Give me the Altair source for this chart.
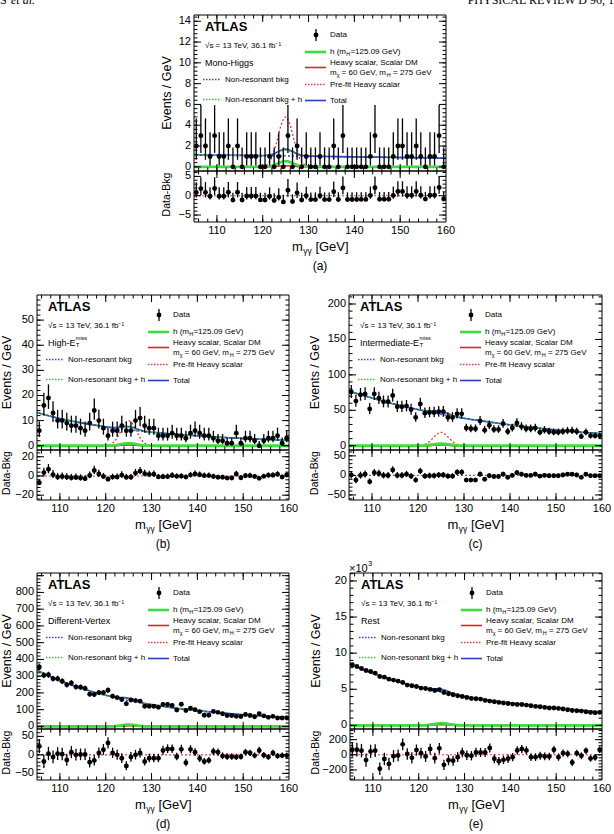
import math
import altair as alt
import pandas as pd

FONT = "Liberation Sans"
SERIF = "Liberation Serif"

# ------------------------------------------------------------------ data
# 1 GeV bins between 105 and 160 GeV
BIN_CENTRES = [105.5 + i for i in range(55)]

# Mono-Higgs category: events per GeV and data minus background
MONO_DATA = [2, 3, 2, 1, 3, 1, 1, 2, 0, 2,
             0, 1, 1, 1, 0, 0, 1, 0, 1, 0,
             3, 0, 2, 0, 1, 0, 0, 1, 0, 0,
             2, 0, 3, 0, 0, 0, 0, 0, 1, 3,
             0, 0, 0, 1, 2, 2, 1, 1, 2, 1,
             0, 1, 1, 3, 0]
MONO_RESID = [0.85, 1.85, 0.86, -0.13, 1.87, -0.12, -0.11, 0.9, -1.1, 0.9,
              -1.1, -0.08, -0.07, -0.07, -1.08, -1.1, -0.15, -1.25, -0.4, -1.6,
              1.4, -1.5, 0.75, -1.1, -0.02, -1.0, -1.0, 0.0, -1.0, -1.0,
              1.02, -0.98, 2.03, -0.97, -0.96, -0.96, -0.95, -0.95, 0.06, 2.06,
              -0.93, -0.93, -0.92, 0.09, 1.09, 1.1, 0.1, 0.11, 1.12, 0.12,
              -0.87, 0.13, 0.14, 2.14, -0.85]

# High-ETmiss category
HIGH_DATA = [6, 16, 19, 13, 10, 10, 9, 8, 8, 7,
             6, 9, 14, 10, 7, 4, 6, 6, 8, 6,
             6, 10, 11, 8, 7, 7, 4, 4, 4, 5,
             4, 4, 3, 5, 6, 5, 4, 4, 3, 2,
             2, 1, 1, 5, 1, 3, 3, 2, 0, 2,
             3, 3, 4, 1, 3]
HIGH_RESID = [-7, 3.5, 7, 1.4, -1.1, -0.6, -1.2, -1.8, -1.5, -2.1,
              -2.8, 0.5, 5.8, 2.1, -0.6, -3.4, -1.2, -1.1, 0.9, -1.3,
              -1.4, 3.0, 5.0, 2.4, 1.6, 1.8, -1.0, -0.8, -0.7, 0.5,
              -0.4, -0.3, -1.2, 0.9, 2.1, 1.2, 0.3, 0.4, -0.5, -1.4,
              -1.3, -2.2, -2.1, 2.0, -1.9, 0.2, 0.3, -0.6, -2.5, -0.4,
              0.7, 0.8, 1.8, -1.1, 1.0]

# Intermediate-ETmiss category
INTER_DATA = [76, 63, 72, 73, 52, 73, 67, 62, 62, 71,
              55, 55, 56, 51, 40, 59, 46, 47, 47, 48,
              48, 40, 40, 45, 45, 25, 24, 24, 35, 22,
              29, 23, 23, 31, 20, 25, 32, 27, 24, 24,
              25, 19, 22, 20, 19, 19, 20, 21, 21, 20,
              13, 19, 14, 14, 14]
INTER_RESID = [1, -12, 0, 3, -16, 7, 5, 0, 0, 14,
               0, 0, 3, -2, -12, 11, -2, -1, -1, 1,
               1, -2, -2, 8, 8, -12, -12, -12, 3, -10,
               -1, -3, -3, 3, -5, 0, 7, 3, 0, 0,
               3, -2, 0, -1, -1, -1, 1, 3, 3, 1,
               -5, 3, -1, -1, -1]

# Different-Vertex category
DV_DATA = [355, 305, 308, 285, 285, 270, 248, 259, 236, 234,
           227, 192, 190, 202, 202, 216, 180, 172, 161, 135,
           158, 154, 151, 120, 120, 120, 114, 131, 131, 125,
           98, 132, 95, 108, 100, 88, 67, 67, 89, 84,
           76, 65, 65, 60, 59, 71, 65, 58, 76, 63,
           54, 60, 50, 50, 51]
DV_RESID = [23, -18, 3, -6, 3, 2, -14, 7, 0, 1,
            1, -20, -15, 5, 14, 32, 5, 0, -9, -30,
            -6, 0, 5, -18, -9, -9, -9, 12, 16, 16,
            -5, 15, -21, 15, 7, -10, -18, -15, 9, 7,
            -3, -5, -5, -6, -5, 7, 5, -2, 12, -1,
            -6, 5, -3, -2, -2]

# Rest category (main panel in units of 10^3 events per GeV)
REST_DATA = [8.39, 8.16, 7.88, 7.6, 7.47, 7.23, 6.77, 6.68, 6.4, 6.27,
             6.13, 5.94, 5.58, 5.48, 5.39, 5.16, 5.1, 4.98, 4.84, 4.93,
             4.56, 4.38, 4.24, 4.1, 4.0, 3.87, 3.73, 3.69, 3.64, 3.46,
             3.36, 3.27, 3.18, 3.09, 3.04, 2.95, 2.9, 2.9, 2.81, 2.72,
             2.63, 2.58, 2.49, 2.4, 2.4, 2.35, 2.26, 2.17, 2.07, 2.03,
             1.98, 1.89, 1.8, 1.75, 1.8]
REST_RESID = [67, 67, 55, -70, 45, 55, -185, -55, -120, -18,
              -8, 138, 10, -40, 62, 22, -22, 76, -44, 85,
              -133, -72, -78, -31, 30, -5, -13, 31, 31, 31,
              89, -53, -85, -67, -53, -31, 58, 76, 58, -31,
              -31, -13, -22, -22, 67, -31, 22, 13, -102, 22,
              -13, 53, -49, -36, 67]

# Fitted shapes, sampled in m_gg
CURVE_X = [105, 110, 115, 119, 120, 121, 122, 123, 124, 125, 126,
           127, 128, 129, 130, 131, 135, 140, 145, 150, 155, 160]

MONO_BKG = [1.15, 1.12, 1.10, 1.08, 1.07, 1.07, 1.06, 1.06, 1.05, 1.05, 1.04,
            1.04, 1.03, 1.03, 1.02, 1.02, 0.99, 0.96, 0.93, 0.90, 0.87, 0.84]
MONO_H = [0, 0, 0, 0, 0.01, 0.03, 0.10, 0.26, 0.46, 0.55, 0.46,
          0.26, 0.10, 0.03, 0.01, 0, 0, 0, 0, 0, 0, 0]
MONO_HEAVY = [0, 0, 0, 0, 0, 0.01, 0.02, 0.05, 0.08, 0.10, 0.08,
              0.05, 0.02, 0.01, 0, 0, 0, 0, 0, 0, 0, 0]
MONO_PREFIT = [0, 0, 0, 0, 0.05, 0.25, 0.9, 2.3, 4.0, 4.8, 4.0,
               2.3, 0.9, 0.25, 0.05, 0, 0, 0, 0, 0, 0, 0]

HIGH_BKG = [13.2, 10.8, 9.0, 7.8, 7.5, 7.25, 7.0, 6.8, 6.55, 6.35, 6.15,
            5.95, 5.75, 5.55, 5.35, 5.2, 4.6, 3.95, 3.4, 2.9, 2.5, 2.15]
HIGH_H = [0, 0, 0, 0, 0.02, 0.05, 0.18, 0.47, 0.83, 1.0, 0.83,
          0.47, 0.18, 0.05, 0.02, 0, 0, 0, 0, 0, 0, 0]
HIGH_HEAVY = [0, 0, 0, 0, 0.01, 0.02, 0.06, 0.14, 0.25, 0.3, 0.25,
              0.14, 0.06, 0.02, 0.01, 0, 0, 0, 0, 0, 0, 0]
HIGH_PREFIT = [0, 0, 0, 0, 0.1, 0.5, 1.9, 4.8, 8.3, 10, 8.3,
               4.8, 1.9, 0.5, 0.1, 0, 0, 0, 0, 0, 0, 0]

INTER_BKG = [77, 67.5, 58.5, 52.5, 51, 49.6, 48.2, 46.9, 45.6, 44.4, 43.2,
             42, 40.9, 39.8, 38.7, 37.7, 34, 29.5, 25.7, 22.3, 19.4, 17]
INTER_H = [0, 0, 0, 0, 0.06, 0.15, 0.55, 1.4, 2.5, 3.0, 2.5,
           1.4, 0.55, 0.15, 0.06, 0, 0, 0, 0, 0, 0, 0]
INTER_HEAVY = [0, 0, 0, 0, 0.02, 0.06, 0.22, 0.56, 1.0, 1.2, 1.0,
               0.56, 0.22, 0.06, 0.02, 0, 0, 0, 0, 0, 0, 0]
INTER_PREFIT = [0, 0, 0, 0, 0.3, 1.0, 3.6, 9.1, 15.8, 19, 15.8,
                9.1, 3.6, 1.0, 0.3, 0, 0, 0, 0, 0, 0, 0]

DV_BKG = [335, 272, 225, 193, 186, 179, 172, 166, 160, 154, 149,
          144, 139, 134, 130, 126, 110, 94, 81, 70, 60, 52]
DV_H = [0, 0, 0, 0, 0.2, 0.5, 1.9, 4.7, 8.3, 10, 8.3,
        4.7, 1.9, 0.5, 0.2, 0, 0, 0, 0, 0, 0, 0]
DV_HEAVY = [0, 0, 0, 0, 0.1, 0.2, 0.8, 1.9, 3.3, 4, 3.3,
            1.9, 0.8, 0.2, 0.1, 0, 0, 0, 0, 0, 0, 0]
DV_PREFIT = [0, 0, 0, 0, 0.2, 0.5, 1.9, 4.7, 8.3, 10, 8.3,
             4.7, 1.9, 0.5, 0.2, 0, 0, 0, 0, 0, 0, 0]

REST_BKG = [8.5, 7.2, 6.15, 5.45, 5.3, 5.15, 5.0, 4.87, 4.74, 4.6, 4.48,
            4.36, 4.24, 4.12, 4.0, 3.9, 3.5, 3.08, 2.72, 2.4, 2.1, 1.82]
REST_H = [0, 0, 0, 0, 0.006, 0.015, 0.055, 0.14, 0.25, 0.3, 0.25,
          0.14, 0.055, 0.015, 0.006, 0, 0, 0, 0, 0, 0, 0]
REST_HEAVY = [0, 0, 0, 0, 0.002, 0.005, 0.018, 0.047, 0.083, 0.1, 0.083,
              0.047, 0.018, 0.005, 0.002, 0, 0, 0, 0, 0, 0, 0]
REST_PREFIT = [0, 0, 0, 0, 0.005, 0.02, 0.07, 0.17, 0.3, 0.36, 0.3,
               0.17, 0.07, 0.02, 0.005, 0, 0, 0, 0, 0, 0, 0]

X_MAJOR = [110, 120, 130, 140, 150, 160]

# ------------------------------------------------------------------ styles
BLACK = "#000000"
BLUE = "#2b3fc4"
BLUE_DOT = "#3c3ce6"
GREEN = "#3fdc3f"
GREEN_DOT = "#2fcf2f"
RED = "#e02424"
RED_DOT = "#e63a3a"

ONE = pd.DataFrame({"k": [0]})
layers = []


def txt(s, x, y, size=8, align="left", baseline="middle", weight="normal",
        italic=False, angle=None, font=FONT):
    kw = dict(align=align, baseline=baseline, fontSize=size, font=font,
              fontWeight=weight, color=BLACK)
    if italic:
        kw["fontStyle"] = "italic"
    if angle is not None:
        kw["angle"] = angle
    return alt.Chart(pd.DataFrame({"t": [s]})).mark_text(**kw).encode(
        text="t:N", x=alt.value(x), y=alt.value(y))


def hseg(x1, x2, y, color, width, dash=None, dash_offset=None):
    kw = dict(color=color, strokeWidth=width)
    if dash:
        kw["strokeDash"] = dash
    if dash_offset:
        kw["strokeDashOffset"] = dash_offset
    return alt.Chart(ONE).mark_rule(**kw).encode(
        x=alt.value(x1), x2=alt.value(x2), y=alt.value(y))


def vseg(x, y1, y2, color, width):
    return alt.Chart(ONE).mark_rule(color=color, strokeWidth=width).encode(
        x=alt.value(x), y=alt.value(y1), y2=alt.value(y2))


def frame(l, r, t, b):
    return alt.Chart(ONE).mark_rect(fillOpacity=0, stroke=BLACK, strokeWidth=1).encode(
        x=alt.value(l), x2=alt.value(r), y=alt.value(t), y2=alt.value(b))


def step_values(lo, hi, step):
    k0 = math.ceil(lo / step + 1e-6)
    k1 = math.floor(hi / step - 1e-6)
    return [round(k * step, 6) for k in range(k0, k1 + 1)]


def x_ticks(vals, sx, y_edge, length, direction):
    df = pd.DataFrame({"v": vals})
    return alt.Chart(df).mark_rule(color=BLACK, strokeWidth=1).encode(
        x=alt.X("v:Q", scale=sx, axis=None),
        y=alt.value(y_edge), y2=alt.value(y_edge + direction * length))


def y_ticks(vals, sy, x_edge, length, direction):
    df = pd.DataFrame({"v": vals})
    return alt.Chart(df).mark_rule(color=BLACK, strokeWidth=1).encode(
        y=alt.Y("v:Q", scale=sy, axis=None),
        x=alt.value(x_edge), x2=alt.value(x_edge + direction * length))


def curve(ys, sx, sy, color, width, dash=None, dash_offset=None):
    df = pd.DataFrame({"m": CURVE_X, "v": ys})
    kw = dict(color=color, strokeWidth=width, interpolate="monotone")
    if dash:
        kw["strokeDash"] = dash
    if dash_offset:
        kw["strokeDashOffset"] = dash_offset
    return alt.Chart(df).mark_line(**kw).encode(
        x=alt.X("m:Q", scale=sx, axis=None), y=alt.Y("v:Q", scale=sy, axis=None))


def poisson_interval(n):
    """Approximate 68% interval of a Poisson count."""
    lo = n - math.sqrt(n - 0.25) if n > 0 else 0.0
    hi = n + 1.0 + math.sqrt(n + 0.75)
    return lo, hi


def points(xs, ys, los, his, sx, sy):
    df = pd.DataFrame({"m": xs, "v": ys, "lo": los, "hi": his})
    base = alt.Chart(df)
    bars = base.mark_rule(color=BLACK, strokeWidth=1.3).encode(
        x=alt.X("m:Q", scale=sx, axis=None),
        y=alt.Y("lo:Q", scale=sy, axis=None), y2="hi:Q")
    dots = base.mark_circle(color=BLACK, size=24, opacity=1).encode(
        x=alt.X("m:Q", scale=sx, axis=None),
        y=alt.Y("v:Q", scale=sy, axis=None))
    return [bars, dots]


def label_layer(vals, texts, sx=None, sy=None, x=None, y=None):
    df = pd.DataFrame({"v": vals, "t": texts})
    if sx is not None:
        return alt.Chart(df).mark_text(font=FONT, fontSize=11, align="center",
                                       baseline="top", color=BLACK).encode(
            x=alt.X("v:Q", scale=sx, axis=None), y=alt.value(y), text="t:N")
    return alt.Chart(df).mark_text(font=FONT, fontSize=11, align="right",
                                   baseline="middle", color=BLACK).encode(
        y=alt.Y("v:Q", scale=sy, axis=None), x=alt.value(x), text="t:N")


def fmt(v):
    s = ("%g" % v)
    return s.replace("-", "\u2212")


PANELS = [
    dict(tag="(a)", left=194, right=446, top=15, mid=171, bot=222,
         data=MONO_DATA, resid=MONO_RESID, bkg=MONO_BKG, h=MONO_H,
         heavy=MONO_HEAVY, prefit=MONO_PREFIT, unit=1,
         ydom=(-0.4, 14.6), ymaj=2, ymax_lab=14, ymin=0.4,
         rdom=(-6.8, 6.4), rmaj=[-5, 0, 5], rmin=1, tdx=27,
         category=[("Mono-Higgs", 0, 0, 9)]),
    dict(tag="(b)", left=37, right=289, top=295, mid=450, bot=500,
         data=HIGH_DATA, resid=HIGH_RESID, bkg=HIGH_BKG, h=HIGH_H,
         heavy=HIGH_HEAVY, prefit=HIGH_PREFIT, unit=1,
         ydom=(-1.7, 60), ymaj=10, ymax_lab=50, ymin=2,
         rdom=(-25, 27), rmaj=[-20, 0, 20], rmin=4, tdx=30.5,
         category=[("High-E", 0, 0, 9), ("T", 27.8, 2.6, 6), ("miss", 27.8, -4.2, 5.5)]),
    dict(tag="(c)", left=349, right=602, top=295, mid=450, bot=500,
         data=INTER_DATA, resid=INTER_RESID, bkg=INTER_BKG, h=INTER_H,
         heavy=INTER_HEAVY, prefit=INTER_PREFIT, unit=1,
         ydom=(-6, 212.7), ymaj=50, ymax_lab=200, ymin=10,
         rdom=(-63, 65), rmaj=[-50, 0, 50], rmin=10, tdx=34,
         category=[("Intermediate-E", 0, 0, 9), ("T", 59.4, 2.6, 6), ("miss", 59.4, -4.2, 5.5)]),
    dict(tag="(d)", left=37, right=289, top=573, mid=729, bot=780,
         data=DV_DATA, resid=DV_RESID, bkg=DV_BKG, h=DV_H,
         heavy=DV_HEAVY, prefit=DV_PREFIT, unit=1,
         ydom=(-15.5, 916), ymaj=100, ymax_lab=800, ymin=20,
         rdom=(-68, 70), rmaj=[-50, 0, 50], rmin=10, tdx=30.5,
         category=[("Different-Vertex", 0, 0, 9)]),
    dict(tag="(e)", left=350, right=602, top=573, mid=729, bot=780,
         data=REST_DATA, resid=REST_RESID, bkg=REST_BKG, h=REST_H,
         heavy=REST_HEAVY, prefit=REST_PREFIT, unit=1000,
         ydom=(-0.5, 21.1), ymaj=5, ymax_lab=20, ymin=1,
         rdom=(-333, 341), rmaj=[-200, 0, 200], rmin=40, tdx=34,
         category=[("Rest", 0, 0, 9)]),
]


def build_panel(p):
    L, R, T, M, B = p["left"], p["right"], p["top"], p["mid"], p["bot"]
    sx = alt.Scale(domain=[105, 160], range=[L, R], nice=False, zero=False)
    sy = alt.Scale(domain=list(p["ydom"]), range=[M, T], nice=False, zero=False)
    sr = alt.Scale(domain=list(p["rdom"]), range=[B, M], nice=False, zero=False)
    out = []

    # fitted shapes
    bkg_h = [b + h for b, h in zip(p["bkg"], p["h"])]
    total = [b + h + s for b, h, s in zip(p["bkg"], p["h"], p["heavy"])]
    out.append(curve(p["prefit"], sx, sy, RED_DOT, 1.3, dash=[2, 2]))
    out.append(curve(p["heavy"], sx, sy, RED, 1.6))
    out.append(curve(p["h"], sx, sy, GREEN, 2.8))
    out.append(curve(total, sx, sy, BLUE, 1.6))
    out.append(curve(bkg_h, sx, sy, GREEN_DOT, 1.5, dash=[2, 2]))
    out.append(curve(p["bkg"], sx, sy, BLUE_DOT, 1.4, dash=[2, 2], dash_offset=2))

    # data with Poisson uncertainties
    unit = p["unit"]
    lo_main, hi_main, lo_res, hi_res = [], [], [], []
    for v, r in zip(p["data"], p["resid"]):
        n = v * unit
        lo, hi = poisson_interval(n)
        lo_main.append(lo / unit)
        hi_main.append(hi / unit)
        lo_res.append(r - (n - lo))
        hi_res.append(r + (hi - n))
    out += points(BIN_CENTRES, p["data"], lo_main, hi_main, sx, sy)

    # ratio panel
    zero = pd.DataFrame({"m": [105, 160], "v": [0, 0]})
    out.append(alt.Chart(zero).mark_line(color=RED_DOT, strokeWidth=1.1, strokeDash=[2, 2]).encode(
        x=alt.X("m:Q", scale=sx, axis=None), y=alt.Y("v:Q", scale=sr, axis=None)))
    out += points(BIN_CENTRES, p["resid"], lo_res, hi_res, sx, sr)

    # frames and inward ticks
    out.append(frame(L, R, T, M))
    out.append(frame(L, R, M, B))
    x_minor = step_values(105, 160, 2)
    for edge, d in ((M, -1), (T, 1), (B, -1), (M, 1)):
        out.append(x_ticks(X_MAJOR[:-1], sx, edge, 7, d))
        out.append(x_ticks(x_minor, sx, edge, 3.5, d))
    y_major = step_values(p["ydom"][0], p["ydom"][1], p["ymaj"])
    y_minor = step_values(p["ydom"][0], p["ydom"][1], p["ymin"])
    r_minor = step_values(p["rdom"][0], p["rdom"][1], p["rmin"])
    for edge, d in ((L, 1), (R, -1)):
        out.append(y_ticks(y_major, sy, edge, 7, d))
        out.append(y_ticks(y_minor, sy, edge, 3.5, d))
        out.append(y_ticks(p["rmaj"], sr, edge, 7, d))
        out.append(y_ticks(r_minor, sr, edge, 3.5, d))

    # tick labels
    y_lab = [v for v in y_major if v <= p["ymax_lab"]]
    out.append(label_layer(y_lab, [fmt(v) for v in y_lab], sy=sy, x=L - 3))
    out.append(label_layer(p["rmaj"], [fmt(v) for v in p["rmaj"]], sy=sr, x=L - 3))
    out.append(label_layer(X_MAJOR, [fmt(v) for v in X_MAJOR], sx=sx, y=B + 3))

    # axis titles
    out.append(txt("Events / GeV", L - p["tdx"], (T + M) / 2, size=12.5,
                   align="center", angle=270))
    out.append(txt("Data-Bkg", L - p["tdx"], (M + B) / 2 - 2, size=10.5,
                   align="center", angle=270))
    cx = (L + R) / 2
    x0 = cx - 28
    yb = B + 29
    out.append(txt("m", x0, yb, size=13, baseline="alphabetic"))
    out.append(txt("\u03b3\u03b3", x0 + 11.2, yb + 3, size=8.5, baseline="alphabetic"))
    out.append(txt("[GeV]", x0 + 23.4, yb, size=13, baseline="alphabetic"))
    out.append(txt(p["tag"], cx, B + 44, size=12, align="center"))

    # legend block
    out.append(txt("ATLAS", L + 11, T + 12, size=13, weight="bold"))
    out.append(txt("\u221as = 13 TeV, 36.1 fb\u207b\u00b9", L + 11, T + 30.5, size=8))
    for s, dx, dy, size in p["category"]:
        out.append(txt(s, L + 11 + dx, T + 47.5 + dy, size=size))
    out.append(hseg(L + 9, L + 27, T + 64.5, BLUE_DOT, 1.3, dash=[1.5, 1.5]))
    out.append(txt("Non-resonant bkg", L + 31, T + 64.5))
    out.append(hseg(L + 9, L + 27, T + 84.5, GREEN_DOT, 1.3, dash=[1.5, 1.5]))
    out.append(txt("Non-resonant bkg + h", L + 31, T + 84.5))

    lx = L + 136
    out.append(vseg(L + 122, T + 14, T + 26, BLACK, 1.3))
    out.append(alt.Chart(ONE).mark_circle(color=BLACK, size=24, opacity=1).encode(
        x=alt.value(L + 122), y=alt.value(T + 20)))
    out.append(txt("Data", lx, T + 20))
    out.append(hseg(L + 111, L + 132, T + 37, GREEN, 2.6))
    out.append(txt("h (m", lx, T + 37))
    out.append(txt("H", lx + 16.2, T + 39, size=5.5))
    out.append(txt("=125.09 GeV)", lx + 20.4, T + 37))
    out.append(hseg(L + 111, L + 132, T + 52.5, RED, 1.6))
    out.append(txt("Heavy scalar, Scalar DM", lx, T + 47.5))
    out.append(txt("m", lx, T + 58))
    out.append(txt("\u03c7", lx + 6.8, T + 60, size=5.5))
    out.append(txt("= 60 GeV, m", lx + 11.6, T + 58))
    out.append(txt("H", lx + 56.8, T + 60, size=5.5))
    out.append(txt("= 275 GeV", lx + 63.0, T + 58))
    out.append(hseg(L + 111, L + 132, T + 69.5, RED_DOT, 1.3, dash=[1.5, 1.5]))
    out.append(txt("Pre-fit Heavy scalar", lx, T + 69.5))
    out.append(hseg(L + 111, L + 132, T + 85.5, BLUE, 1.6))
    out.append(txt("Total", lx, T + 85.5))

    if p["unit"] == 1000:
        out.append(txt("\u00d710", L - 1, T - 1.5, size=11, baseline="alphabetic"))
        out.append(txt("3", L + 18, T - 7, size=7.5, baseline="alphabetic"))
    return out


for panel in PANELS:
    layers += build_panel(panel)

# running page header
layers.append(txt("S", 0, 4, size=12, baseline="alphabetic", font=SERIF))
layers.append(txt("et al.", 11, 4, size=12, baseline="alphabetic", font=SERIF, italic=True))
layers.append(txt("PHYSICAL REVIEW D 96, 1", 614, 4, size=12, align="right",
                  baseline="alphabetic", font=SERIF))

chart = alt.layer(*layers).resolve_scale(
    x="independent", y="independent"
).properties(
    width=614, height=834, autosize=alt.AutoSizeParams(type="none"),
    padding={"left": 0, "right": 0, "top": 0, "bottom": 0},
    background="white",
).configure_view(strokeWidth=0)

chart.save("out.html", embed_options={"renderer": "svg", "actions": False})
